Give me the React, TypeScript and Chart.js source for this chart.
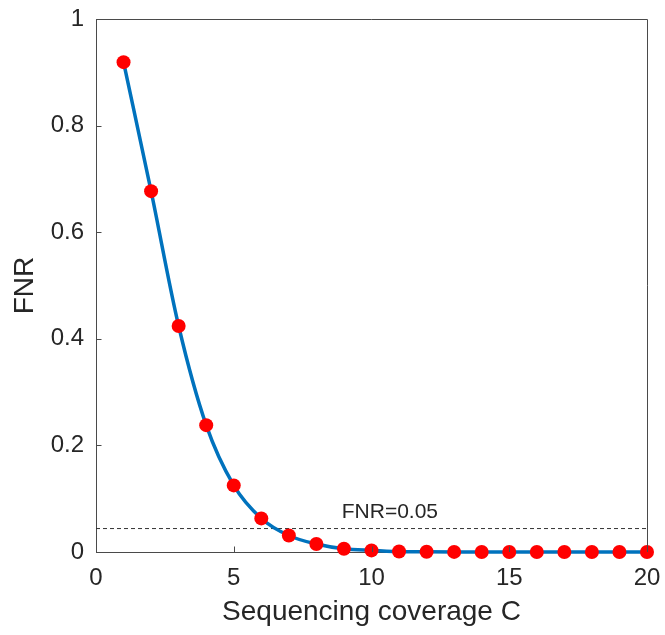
import React, { useEffect, useRef } from "react";
import { Chart, registerables } from "chart.js";

Chart.register(...registerables);

const coverage = [1, 2, 3, 4, 5, 6, 7, 8, 9, 10, 11, 12, 13, 14, 15, 16, 17, 18, 19, 20];
const fnrValues = [0.919, 0.677, 0.424, 0.238, 0.125, 0.063, 0.031, 0.015, 0.006, 0.003, 0.001, 0.0005, 0.0002, 0.0001, 0, 0, 0, 0, 0, 0];
const thresholdX = [0, 20];
const thresholdY = [0.044, 0.044];
const thresholdLabel = "FNR=0.05";
const labelPos = { x: 8.92, y: 0.064 };
const xTitle = "Sequencing coverage C";
const yTitle = "FNR";

const FONT = "'Liberation Sans', Arial, Helvetica, sans-serif";
const AXIS_COLOR = "#4a4a4a";
const TEXT_COLOR = "#262626";

const framePlugin = {
  id: "frame",
  afterDraw(chart: any) {
    const { ctx, chartArea: a, scales } = chart;
    ctx.save();
    ctx.strokeStyle = AXIS_COLOR;
    ctx.lineWidth = 1;
    ctx.beginPath();
    ctx.moveTo(a.left, a.top + 0.5);
    ctx.lineTo(a.right + 0.5, a.top + 0.5);
    ctx.lineTo(a.right + 0.5, a.bottom);
    ctx.stroke();
    ctx.beginPath();
    scales.y.ticks.forEach((t: any) => {
      const py = Math.round(scales.y.getPixelForValue(t.value)) + 0.5;
      ctx.moveTo(a.left, py);
      ctx.lineTo(a.left + 5.5, py);
    });
    scales.x.ticks.forEach((t: any) => {
      const px = Math.round(scales.x.getPixelForValue(t.value)) + 0.5;
      ctx.moveTo(px, a.bottom);
      ctx.lineTo(px, a.bottom - 5.5);
    });
    ctx.stroke();
    ctx.restore();
  },
  afterDatasetsDraw(chart: any) {
    const { ctx, scales } = chart;
    ctx.save();
    ctx.fillStyle = TEXT_COLOR;
    ctx.font = `21px ${FONT}`;
    ctx.textAlign = "left";
    ctx.textBaseline = "alphabetic";
    ctx.fillText(thresholdLabel, scales.x.getPixelForValue(labelPos.x), scales.y.getPixelForValue(labelPos.y));
    ctx.restore();
  },
};

export default function App() {
  const ref = useRef<HTMLCanvasElement | null>(null);

  useEffect(() => {
    if (!ref.current) return;
    const chart = new Chart(ref.current, {
      type: "line",
      data: {
        datasets: [
          {
            data: coverage.map((c, i) => ({ x: c, y: fnrValues[i] })),
            borderColor: "#0072BD",
            borderWidth: 3.5,
            cubicInterpolationMode: "monotone",
            pointRadius: 7,
            pointBackgroundColor: "#FF0000",
            pointBorderColor: "#FF0000",
            pointBorderWidth: 0,
            clip: false as any,
          },
          {
            data: thresholdX.map((x, i) => ({ x, y: thresholdY[i] })),
            borderColor: "#333333",
            borderWidth: 1,
            borderDash: [4, 3],
            pointRadius: 0,
          },
        ],
      },
      options: {
        responsive: false,
        animation: false,
        events: [],
        layout: { padding: { top: 19, right: 18, left: 0, bottom: 0 } },
        plugins: { legend: { display: false }, tooltip: { enabled: false } },
        scales: {
          x: {
            type: "linear",
            min: 0,
            max: 20,
            grid: { display: false, drawTicks: false },
            border: { display: true, color: AXIS_COLOR, width: 1 },
            ticks: {
              stepSize: 5,
              color: TEXT_COLOR,
              padding: 12,
              font: { family: FONT, size: 24 },
              maxRotation: 0,
            },
            title: {
              display: true,
              text: xTitle,
              color: TEXT_COLOR,
              font: { family: FONT, size: 28 },
              padding: { top: 0, bottom: 6 },
            },
            afterFit(scale: any) {
              scale.height = 83;
              scale.paddingLeft = 0;
              scale.paddingRight = 0;
            },
          },
          y: {
            type: "linear",
            min: 0,
            max: 1,
            grid: { display: false, drawTicks: false },
            border: { display: true, color: AXIS_COLOR, width: 1 },
            ticks: {
              stepSize: 0.2,
              color: TEXT_COLOR,
              padding: 12,
              font: { family: FONT, size: 24 },
              callback: (v: any) => String(Math.round(Number(v) * 10) / 10),
            },
            title: {
              display: true,
              text: yTitle,
              color: TEXT_COLOR,
              font: { family: FONT, size: 28 },
              padding: { top: 8, bottom: 0 },
            },
            afterFit(scale: any) {
              scale.width = 96;
              scale.paddingTop = 0;
              scale.paddingBottom = 0;
            },
          },
        },
      },
      plugins: [framePlugin],
    });
    return () => chart.destroy();
  }, []);

  return (
    <div style={{ position: "absolute", left: 0, top: 0, width: 665, height: 635, background: "#fff" }}>
      <canvas ref={ref} width={665} height={635} style={{ display: "block" }} />
    </div>
  );
}
